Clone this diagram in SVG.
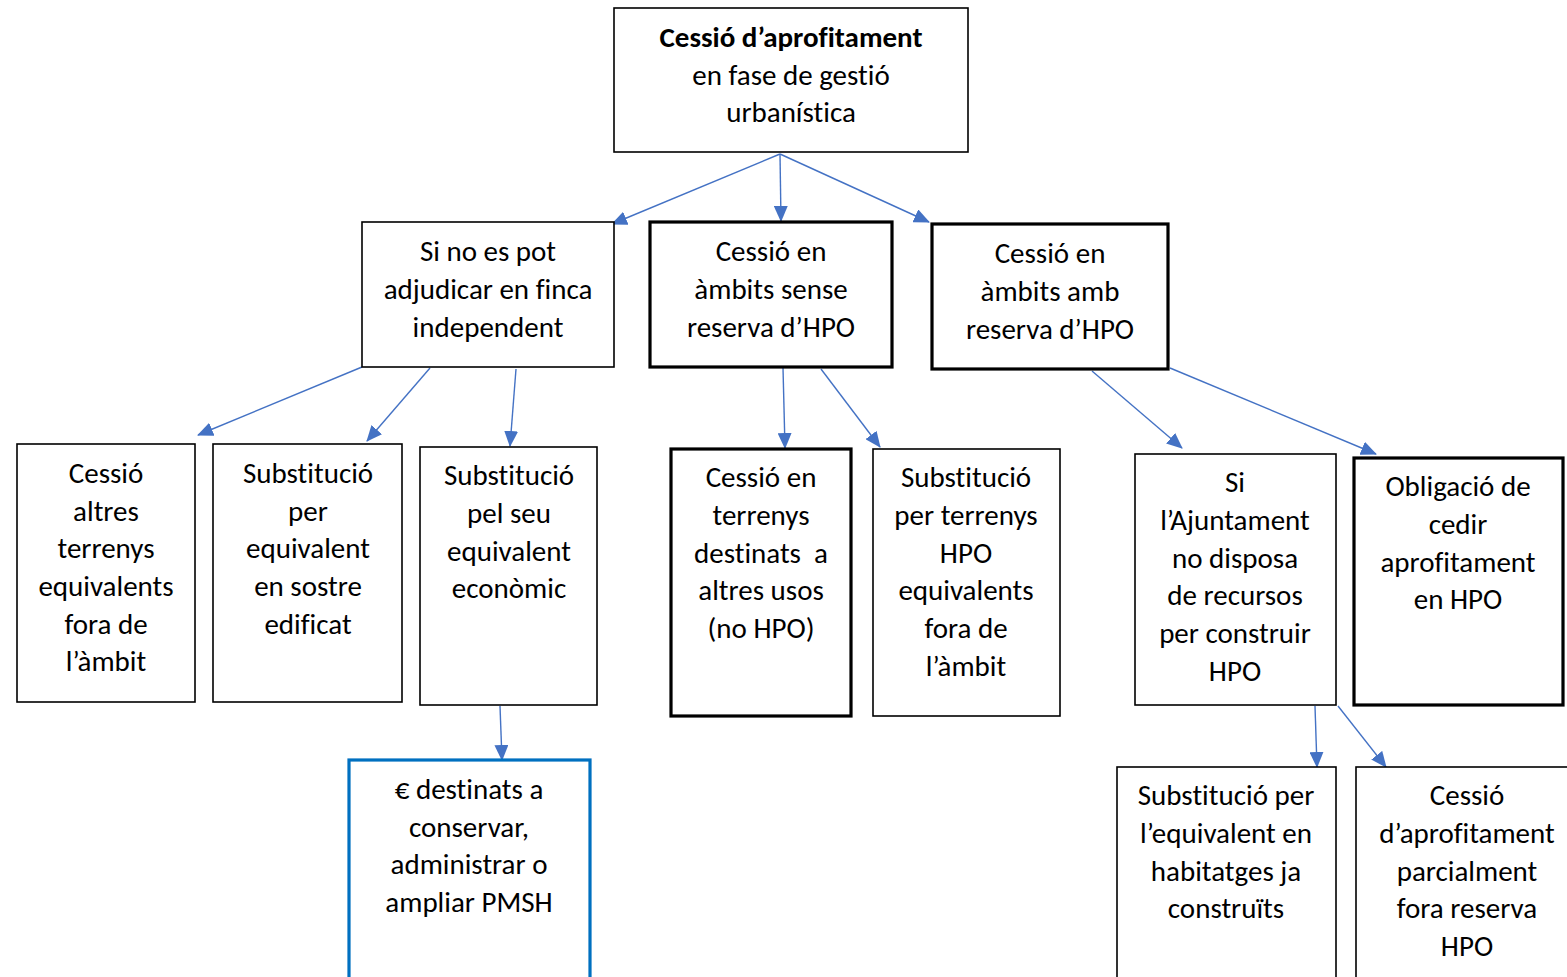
<svg xmlns="http://www.w3.org/2000/svg" width="1567" height="977" viewBox="0 0 1567 977">
<defs>
<style>
.box{fill:#fff;stroke:#000;stroke-width:1.6}
.thick{fill:#fff;stroke:#000;stroke-width:3.2}
.blue{fill:#fff;stroke:#0070C0;stroke-width:3.2}
text{font-family:Carlito,Lato,"Open Sans",sans-serif;font-size:29px;fill:#000;text-anchor:middle;font-variant-ligatures:none;font-feature-settings:"liga" 0}
.b{font-weight:bold}
.con line{stroke:#4472C4;stroke-width:1.4;marker-end:url(#ah)}
</style>
<marker id="ah" markerUnits="userSpaceOnUse" markerWidth="16" markerHeight="14" refX="15" refY="7" orient="auto" viewBox="0 0 16 14">
<path d="M0,0 L16,7 L0,14 Z" fill="#4472C4"/>
</marker>
</defs>
<rect width="1567" height="977" fill="#fff"/>
<g id="connectors" class="con">
<line x1="780" y1="154" x2="612" y2="224"/>
<line x1="780" y1="154" x2="781" y2="221"/>
<line x1="780" y1="154" x2="929" y2="222"/>
<line x1="362" y1="367" x2="198" y2="435"/>
<line x1="430" y1="368" x2="367" y2="441"/>
<line x1="516" y1="369" x2="510" y2="446"/>
<line x1="783" y1="368" x2="785" y2="448"/>
<line x1="821" y1="369" x2="880" y2="447"/>
<line x1="1092" y1="371" x2="1182" y2="448"/>
<line x1="1170" y1="368" x2="1376" y2="454"/>
<line x1="500" y1="706" x2="502" y2="760"/>
<line x1="1315" y1="706" x2="1317" y2="767"/>
<line x1="1338" y1="706" x2="1386" y2="767"/>
</g>
<g id="n-top">
<rect class="box" x="614" y="8" width="354" height="144"/>
<text x="791" y="47" class="b">Cessió d’aprofitament</text>
<text x="791" y="85">en fase de gestió</text>
<text x="791" y="122">urbanística</text>
</g>
<g id="n-a">
<rect class="box" x="362" y="222" width="252" height="145"/>
<text x="488" y="261">Si no es pot</text>
<text x="488" y="299">adjudicar en finca</text>
<text x="488" y="337">independent</text>
</g>
<g id="n-b">
<rect class="thick" x="650" y="222" width="242" height="145"/>
<text x="771" y="261">Cessió en</text>
<text x="771" y="299">àmbits sense</text>
<text x="771" y="337">reserva d’HPO</text>
</g>
<g id="n-c">
<rect class="thick" x="932" y="224" width="236" height="145"/>
<text x="1050" y="263">Cessió en</text>
<text x="1050" y="301">àmbits amb</text>
<text x="1050" y="339">reserva d’HPO</text>
</g>
<g id="n-d">
<rect class="box" x="17" y="444" width="178" height="258"/>
<text x="106" y="483">Cessió</text>
<text x="106" y="521">altres</text>
<text x="106" y="558">terrenys</text>
<text x="106" y="596">equivalents</text>
<text x="106" y="634">fora de</text>
<text x="106" y="671">l’àmbit</text>
</g>
<g id="n-e">
<rect class="box" x="213" y="444" width="189" height="258"/>
<text x="308" y="483">Substitució</text>
<text x="308" y="521">per</text>
<text x="308" y="558">equivalent</text>
<text x="308" y="596">en sostre</text>
<text x="308" y="634">edificat</text>
</g>
<g id="n-f">
<rect class="box" x="420" y="447" width="177" height="258"/>
<text x="509" y="485">Substitució</text>
<text x="509" y="523">pel seu</text>
<text x="509" y="561">equivalent</text>
<text x="509" y="598">econòmic</text>
</g>
<g id="n-g">
<rect class="thick" x="671" y="449" width="180" height="267"/>
<text x="761" y="487">Cessió en</text>
<text x="761" y="525">terrenys</text>
<text x="761" y="563" xml:space="preserve">destinats  a</text>
<text x="761" y="600">altres usos</text>
<text x="761" y="638">(no HPO)</text>
</g>
<g id="n-h">
<rect class="box" x="873" y="449" width="187" height="267"/>
<text x="966" y="487">Substitució</text>
<text x="966" y="525">per terrenys</text>
<text x="966" y="563">HPO</text>
<text x="966" y="600">equivalents</text>
<text x="966" y="638">fora de</text>
<text x="966" y="676">l’àmbit</text>
</g>
<g id="n-i">
<rect class="box" x="1135" y="454" width="201" height="251"/>
<text x="1235" y="492">Si</text>
<text x="1235" y="530">l’Ajuntament</text>
<text x="1235" y="568">no disposa</text>
<text x="1235" y="605">de recursos</text>
<text x="1235" y="643">per construir</text>
<text x="1235" y="681">HPO</text>
</g>
<g id="n-j">
<rect class="thick" x="1354" y="458" width="209" height="247"/>
<text x="1458" y="496">Obligació de</text>
<text x="1458" y="534">cedir</text>
<text x="1458" y="572">aprofitament</text>
<text x="1458" y="609">en HPO</text>
</g>
<g id="n-k">
<rect class="blue" x="349" y="760" width="241" height="220"/>
<text x="469" y="799">€ destinats a</text>
<text x="469" y="837">conservar,</text>
<text x="469" y="874">administrar o</text>
<text x="469" y="912">ampliar PMSH</text>
</g>
<g id="n-l">
<rect class="box" x="1117" y="767" width="219" height="213"/>
<text x="1226" y="805">Substitució per</text>
<text x="1226" y="843">l’equivalent en</text>
<text x="1226" y="881">habitatges ja</text>
<text x="1226" y="918">construïts</text>
</g>
<g id="n-m">
<rect class="box" x="1356" y="767" width="215" height="213"/>
<text x="1467" y="805">Cessió</text>
<text x="1467" y="843">d’aprofitament</text>
<text x="1467" y="881">parcialment</text>
<text x="1467" y="918">fora reserva</text>
<text x="1467" y="956">HPO</text>
</g>
</svg>
